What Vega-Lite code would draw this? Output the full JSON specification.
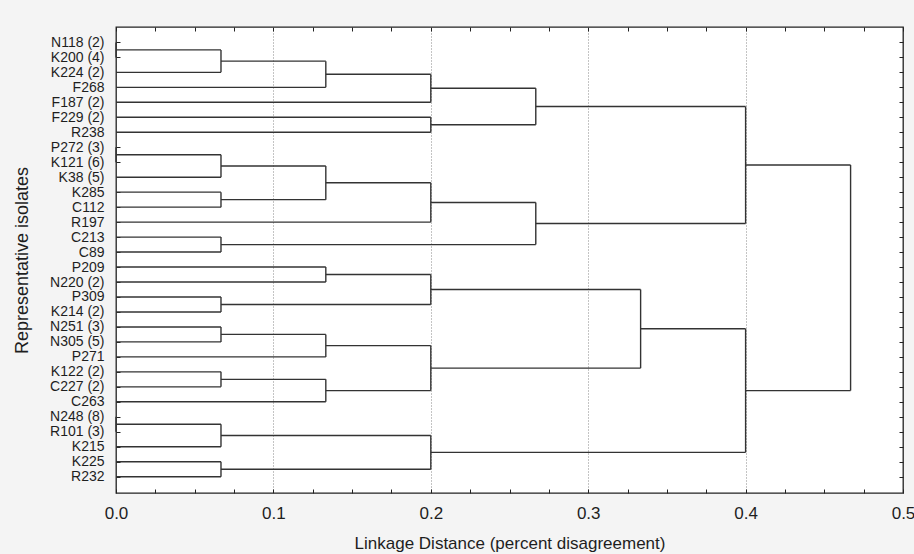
{
  "$schema": "https://vega.github.io/schema/vega-lite/v6.json",
  "autosize": "none",
  "width": 787,
  "height": 466,
  "padding": {"left": 116, "top": 27, "right": 11, "bottom": 61},
  "background": "#f4f4f4",
  "view": {"fill": "white", "stroke": "#222222", "strokeWidth": 1.3},
  "config": {
    "font": "Liberation Sans",
    "axis": {"labelFont": "Liberation Sans", "titleFont": "Liberation Sans", "titleFontWeight": "normal", "labelColor": "#1e1e1e", "titleColor": "#1e1e1e", "tickColor": "#222222", "domain": false}
  },
  "data": {
    "values": [
      {"d1": 0, "d2": 0.0667, "p1": 0.5, "p2": 0.5},
      {"d1": 0, "d2": 0.0667, "p1": 2, "p2": 2},
      {"d1": 0.0667, "d2": 0.1333, "p1": 1.25, "p2": 1.25},
      {"d1": 0, "d2": 0.1333, "p1": 3, "p2": 3},
      {"d1": 0.1333, "d2": 0.2, "p1": 2.125, "p2": 2.125},
      {"d1": 0, "d2": 0.2, "p1": 4, "p2": 4},
      {"d1": 0, "d2": 0.2, "p1": 5, "p2": 5},
      {"d1": 0, "d2": 0.2, "p1": 6, "p2": 6},
      {"d1": 0.2, "d2": 0.2667, "p1": 3.0625, "p2": 3.0625},
      {"d1": 0.2, "d2": 0.2667, "p1": 5.5, "p2": 5.5},
      {"d1": 0.2667, "d2": 0.4, "p1": 4.28125, "p2": 4.28125},
      {"d1": 0, "d2": 0.0667, "p1": 7.5, "p2": 7.5},
      {"d1": 0, "d2": 0.0667, "p1": 9, "p2": 9},
      {"d1": 0, "d2": 0.0667, "p1": 10, "p2": 10},
      {"d1": 0, "d2": 0.0667, "p1": 11, "p2": 11},
      {"d1": 0.0667, "d2": 0.1333, "p1": 8.25, "p2": 8.25},
      {"d1": 0.0667, "d2": 0.1333, "p1": 10.5, "p2": 10.5},
      {"d1": 0.1333, "d2": 0.2, "p1": 9.375, "p2": 9.375},
      {"d1": 0, "d2": 0.2, "p1": 12, "p2": 12},
      {"d1": 0.2, "d2": 0.2667, "p1": 10.6875, "p2": 10.6875},
      {"d1": 0, "d2": 0.0667, "p1": 13, "p2": 13},
      {"d1": 0, "d2": 0.0667, "p1": 14, "p2": 14},
      {"d1": 0.0667, "d2": 0.2667, "p1": 13.5, "p2": 13.5},
      {"d1": 0.2667, "d2": 0.4, "p1": 12.09375, "p2": 12.09375},
      {"d1": 0.4, "d2": 0.4667, "p1": 8.1875, "p2": 8.1875},
      {"d1": 0, "d2": 0.1333, "p1": 15, "p2": 15},
      {"d1": 0, "d2": 0.1333, "p1": 16, "p2": 16},
      {"d1": 0.1333, "d2": 0.2, "p1": 15.5, "p2": 15.5},
      {"d1": 0, "d2": 0.0667, "p1": 17, "p2": 17},
      {"d1": 0, "d2": 0.0667, "p1": 18, "p2": 18},
      {"d1": 0.0667, "d2": 0.2, "p1": 17.5, "p2": 17.5},
      {"d1": 0.2, "d2": 0.3333, "p1": 16.5, "p2": 16.5},
      {"d1": 0, "d2": 0.0667, "p1": 19, "p2": 19},
      {"d1": 0, "d2": 0.0667, "p1": 20, "p2": 20},
      {"d1": 0.0667, "d2": 0.1333, "p1": 19.5, "p2": 19.5},
      {"d1": 0, "d2": 0.1333, "p1": 21, "p2": 21},
      {"d1": 0.1333, "d2": 0.2, "p1": 20.25, "p2": 20.25},
      {"d1": 0, "d2": 0.0667, "p1": 22, "p2": 22},
      {"d1": 0, "d2": 0.0667, "p1": 23, "p2": 23},
      {"d1": 0.0667, "d2": 0.1333, "p1": 22.5, "p2": 22.5},
      {"d1": 0, "d2": 0.1333, "p1": 24, "p2": 24},
      {"d1": 0.1333, "d2": 0.2, "p1": 23.25, "p2": 23.25},
      {"d1": 0.2, "d2": 0.3333, "p1": 21.75, "p2": 21.75},
      {"d1": 0.3333, "d2": 0.4, "p1": 19.125, "p2": 19.125},
      {"d1": 0, "d2": 0.0667, "p1": 25.5, "p2": 25.5},
      {"d1": 0, "d2": 0.0667, "p1": 27, "p2": 27},
      {"d1": 0.0667, "d2": 0.2, "p1": 26.25, "p2": 26.25},
      {"d1": 0, "d2": 0.0667, "p1": 28, "p2": 28},
      {"d1": 0, "d2": 0.0667, "p1": 29, "p2": 29},
      {"d1": 0.0667, "d2": 0.2, "p1": 28.5, "p2": 28.5},
      {"d1": 0.2, "d2": 0.4, "p1": 27.375, "p2": 27.375},
      {"d1": 0.4, "d2": 0.4667, "p1": 23.25, "p2": 23.25},
      {"d1": 0, "d2": 0, "p1": 0, "p2": 1},
      {"d1": 0.0667, "d2": 0.0667, "p1": 0.5, "p2": 2},
      {"d1": 0.1333, "d2": 0.1333, "p1": 1.25, "p2": 3},
      {"d1": 0.2, "d2": 0.2, "p1": 2.125, "p2": 4},
      {"d1": 0.2, "d2": 0.2, "p1": 5, "p2": 6},
      {"d1": 0.2667, "d2": 0.2667, "p1": 3.0625, "p2": 5.5},
      {"d1": 0, "d2": 0, "p1": 7, "p2": 8},
      {"d1": 0.0667, "d2": 0.0667, "p1": 7.5, "p2": 9},
      {"d1": 0.0667, "d2": 0.0667, "p1": 10, "p2": 11},
      {"d1": 0.1333, "d2": 0.1333, "p1": 8.25, "p2": 10.5},
      {"d1": 0.2, "d2": 0.2, "p1": 9.375, "p2": 12},
      {"d1": 0.0667, "d2": 0.0667, "p1": 13, "p2": 14},
      {"d1": 0.2667, "d2": 0.2667, "p1": 10.6875, "p2": 13.5},
      {"d1": 0.4, "d2": 0.4, "p1": 4.28125, "p2": 12.09375},
      {"d1": 0.1333, "d2": 0.1333, "p1": 15, "p2": 16},
      {"d1": 0.0667, "d2": 0.0667, "p1": 17, "p2": 18},
      {"d1": 0.2, "d2": 0.2, "p1": 15.5, "p2": 17.5},
      {"d1": 0.0667, "d2": 0.0667, "p1": 19, "p2": 20},
      {"d1": 0.1333, "d2": 0.1333, "p1": 19.5, "p2": 21},
      {"d1": 0.0667, "d2": 0.0667, "p1": 22, "p2": 23},
      {"d1": 0.1333, "d2": 0.1333, "p1": 22.5, "p2": 24},
      {"d1": 0.2, "d2": 0.2, "p1": 20.25, "p2": 23.25},
      {"d1": 0.3333, "d2": 0.3333, "p1": 16.5, "p2": 21.75},
      {"d1": 0, "d2": 0, "p1": 25, "p2": 26},
      {"d1": 0.0667, "d2": 0.0667, "p1": 25.5, "p2": 27},
      {"d1": 0.0667, "d2": 0.0667, "p1": 28, "p2": 29},
      {"d1": 0.2, "d2": 0.2, "p1": 26.25, "p2": 28.5},
      {"d1": 0.4, "d2": 0.4, "p1": 19.125, "p2": 27.375},
      {"d1": 0.4667, "d2": 0.4667, "p1": 8.1875, "p2": 23.25}
    ]
  },
  "layer": [
    {
      "mark": {"type": "rule", "color": "#333333", "strokeWidth": 1.4},
      "encoding": {
        "x": {
          "field": "d1", "type": "quantitative",
          "scale": {"domain": [0, 0.5], "nice": false, "zero": false},
          "axis": {
            "orient": "bottom",
            "values": [0, 0.025, 0.05, 0.075, 0.1, 0.125, 0.15, 0.175, 0.2, 0.225, 0.25, 0.275, 0.3, 0.325, 0.35, 0.375, 0.4, 0.425, 0.45, 0.475, 0.5],
            "labelExpr": "abs(datum.value * 10 - round(datum.value * 10)) < 0.001 ? format(datum.value, '.1f') : ''",
            "labelFontSize": 17,
            "labelPadding": 16,
            "labelFlush": false,
            "tickSize": -4,
            "tickWidth": 1,
            "grid": true,
            "gridColor": "#888888",
            "gridDash": [1, 2],
            "gridWidth": 1,
            "gridOpacity": {"condition": {"test": "abs(datum.value * 10 - round(datum.value * 10)) < 0.001 && datum.value > 0.01 && datum.value < 0.49", "value": 1}, "value": 0},
            "title": "Linkage Distance (percent disagreement)",
            "titleFontSize": 17,
            "titlePadding": 14
          }
        },
        "x2": {"field": "d2"},
        "y": {
          "field": "p1", "type": "quantitative",
          "scale": {"domain": [-1.03, 30.09], "nice": false, "zero": false, "reverse": true},
          "axis": {
            "orient": "left",
            "values": [0, 1, 2, 3, 4, 5, 6, 7, 8, 9, 10, 11, 12, 13, 14, 15, 16, 17, 18, 19, 20, 21, 22, 23, 24, 25, 26, 27, 28, 29],
            "labelExpr": "['N118 (2)','K200 (4)','K224 (2)','F268','F187 (2)','F229 (2)','R238','P272 (3)','K121 (6)','K38 (5)','K285','C112','R197','C213','C89','P209','N220 (2)','P309','K214 (2)','N251 (3)','N305 (5)','P271','K122 (2)','C227 (2)','C263','N248 (8)','R101 (3)','K215','K225','R232'][datum.value]",
            "labelFontSize": 14,
            "labelPadding": 16,
            "labelFlush": false,
            "labelOverlap": false,
            "tickSize": -4,
            "tickWidth": 1,
            "grid": false,
            "title": "Representative isolates",
            "titleFontSize": 18,
            "titleAngle": -90,
            "titleX": -94,
            "titleY": 233,
            "titleAlign": "center",
            "titleBaseline": "middle"
          }
        },
        "y2": {"field": "p2"}
      }
    },
    {
      "mark": {"type": "rule", "opacity": 0},
      "encoding": {
        "x": {
          "field": "d1", "type": "quantitative",
          "axis": {
            "orient": "top",
            "values": [0, 0.025, 0.05, 0.075, 0.1, 0.125, 0.15, 0.175, 0.2, 0.225, 0.25, 0.275, 0.3, 0.325, 0.35, 0.375, 0.4, 0.425, 0.45, 0.475, 0.5],
            "labels": false,
            "tickSize": -4,
            "tickWidth": 1,
            "grid": false,
            "title": null
          }
        },
        "y": {
          "field": "p1", "type": "quantitative",
          "axis": {
            "orient": "right",
            "values": [0, 1, 2, 3, 4, 5, 6, 7, 8, 9, 10, 11, 12, 13, 14, 15, 16, 17, 18, 19, 20, 21, 22, 23, 24, 25, 26, 27, 28, 29],
            "labels": false,
            "tickSize": -4,
            "tickWidth": 1,
            "grid": false,
            "title": null
          }
        }
      }
    }
  ]
}
